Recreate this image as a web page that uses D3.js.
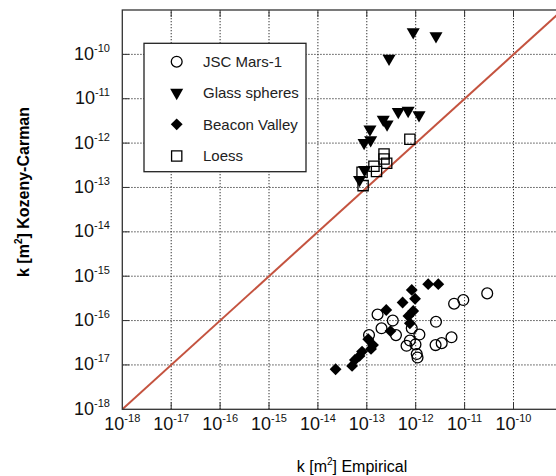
<!DOCTYPE html>
<html>
<head>
<meta charset="utf-8">
<script src="https://cdn.jsdelivr.net/npm/d3@7"></script>
<style>
body{margin:0;background:#fff}
svg{display:block;font-family:"Liberation Sans",Arial,Helvetica,sans-serif}
</style>
</head>
<body>
<svg id="chart"></svg>
<script>
// k empirique vs k Kozeny-Carman, en m2
var WIDTH=556, HEIGHT=476;

var decades=[-18,-17,-16,-15,-14,-13,-12,-11,-10];

var jscMars=[[2.9e-11,4.1e-16],[9.4e-12,2.9e-16],[6.1e-12,2.4e-16],[1.66e-13,1.37e-16],
  [3.4e-13,1.0e-16],[2.6e-12,9.4e-17],[2.0e-13,6.7e-17],[3.95e-13,4.7e-17],[1.11e-13,4.7e-17],
  [8.3e-13,6.7e-17],[1.19e-12,4.85e-17],[5.4e-12,4.2e-17],[3.4e-12,3.1e-17],[2.55e-12,2.8e-17],
  [7.6e-13,3.55e-17],[9.9e-13,2.9e-17],[6.5e-13,2.7e-17],[1.05e-12,1.76e-17],[1.09e-12,1.47e-17]];

var glassSpheres=[[8.9e-13,3.2e-10],[2.6e-12,2.6e-10],[2.85e-13,8.1e-11],[4.4e-13,5.1e-12],
  [7.0e-13,5.4e-12],[1.17e-12,4.3e-12],[2.17e-13,3.4e-12],[2.6e-13,2.65e-12],[1.16e-13,2.05e-12],
  [8.8e-14,1.02e-12],[1.2e-13,1.17e-12],[9.0e-14,2.5e-13],[7.1e-14,1.5e-13]];

var beaconValley=[[1.8e-12,6.6e-16],[2.9e-12,6.6e-16],[8.3e-13,4.9e-16],[9.7e-13,3.1e-16],
  [5.4e-13,2.55e-16],[8.9e-13,1.64e-16],[7.1e-13,1.27e-16],[7.6e-13,8.7e-17],[2.5e-13,1.73e-16],
  [3.05e-13,5.8e-17],[1.07e-13,3.8e-17],[1.34e-13,2.8e-17],[1.22e-13,2.3e-17],[7.1e-14,1.6e-17],
  [5.7e-14,1.3e-17],[5.0e-14,9.5e-18],[2.3e-14,8.0e-18],[8.0e-14,2.0e-17]];

var loess=[[7.6e-13,1.22e-12],[2.25e-13,5.7e-13],[2.25e-13,4.4e-13],[2.55e-13,3.5e-13],
  [1.4e-13,3.0e-13],[1.58e-13,2.3e-13],[8.0e-14,2.2e-13],[8.4e-14,1.1e-13]];

var seriesNames=["JSC Mars-1","Glass spheres","Beacon Valley","Loess"];

var svg=d3.select("#chart").attr("width",WIDTH).attr("height",HEIGHT);
svg.append("rect").attr("width",WIDTH).attr("height",HEIGHT).attr("fill","#fff");

var x=d3.scaleLog().domain([1e-18,1e-9]).range([122.3,562.4]);
var y=d3.scaleLog().domain([1e-18,1e-9]).range([409.3,10]);

var plot=svg.append("g");
svg.append("clipPath").attr("id","clip").append("rect")
  .attr("x",x.range()[0]).attr("y",y.range()[1])
  .attr("width",x.range()[1]-x.range()[0]).attr("height",y.range()[0]-y.range()[1]);

// grille pointillée
var inner=decades.slice(1).map(function(e){return Math.pow(10,e)});
plot.selectAll(".gx").data(inner).enter().append("line")
  .attr("x1",function(d){return x(d)}).attr("x2",function(d){return x(d)})
  .attr("y1",y.range()[0]).attr("y2",y.range()[1])
  .attr("stroke","#333").attr("stroke-width",1).attr("stroke-dasharray","1.3,1.7");
plot.selectAll(".gy").data(inner).enter().append("line")
  .attr("y1",function(d){return y(d)}).attr("y2",function(d){return y(d)})
  .attr("x1",x.range()[0]).attr("x2",x.range()[1])
  .attr("stroke","#333").attr("stroke-width",1).attr("stroke-dasharray","1.3,1.7");

// petits traits pleins vers l'intérieur
var TL=7;
inner.forEach(function(d){
  plot.append("line").attr("x1",x(d)).attr("x2",x(d)).attr("y1",y.range()[0]).attr("y2",y.range()[0]-TL).attr("stroke","#333");
  plot.append("line").attr("x1",x(d)).attr("x2",x(d)).attr("y1",y.range()[1]).attr("y2",y.range()[1]+TL).attr("stroke","#333");
  plot.append("line").attr("y1",y(d)).attr("y2",y(d)).attr("x1",x.range()[0]).attr("x2",x.range()[0]+TL).attr("stroke","#333");
});

// droite 1:1
plot.append("path").datum([1e-18,1e-9])
  .attr("clip-path","url(#clip)")
  .attr("d",d3.line().x(function(d){return x(d)}).y(function(d){return y(d)}))
  .attr("stroke","#c4533f").attr("stroke-width",2).attr("fill","none");

// cadre
plot.append("rect").attr("x",x.range()[0]).attr("y",y.range()[1])
  .attr("width",x.range()[1]-x.range()[0]).attr("height",y.range()[0]-y.range()[1])
  .attr("fill","none").attr("stroke","#333").attr("stroke-width",1.3);

// symboles
var symCircle=d3.symbol().type(d3.symbolCircle).size(92)();
var symTri=d3.symbol().type(d3.symbolTriangle).size(74)();
var symDiamond=d3.symbol().type(d3.symbolSquare).size(70)();
var symSquare=d3.symbol().type(d3.symbolSquare).size(105)();
var styles=[
  {data:jscMars,path:symCircle,rot:0,fill:"none",sw:1.3},
  {data:glassSpheres,path:symTri,rot:180,fill:"#000",sw:0},
  {data:beaconValley,path:symDiamond,rot:45,fill:"#000",sw:0},
  {data:loess,path:symSquare,rot:0,fill:"none",sw:1.3}
];
var drawOrder=[2,0,1,3];
drawOrder.forEach(function(i){
  var s=styles[i];
  plot.append("g").selectAll("path").data(s.data).enter().append("path")
    .attr("d",s.path)
    .attr("transform",function(d){return "translate("+x(d[0])+","+y(d[1])+") rotate("+s.rot+")"})
    .attr("fill",s.fill).attr("stroke","#000").attr("stroke-width",s.sw);
});

// étiquettes des graduations
function powLabel(sel,e){
  sel.append("tspan").text("10");
  sel.append("tspan").attr("font-size",11).attr("dy",-8).text(e);
}
decades.forEach(function(e){
  var t=svg.append("text").attr("x",x(Math.pow(10,e))).attr("y",430)
    .attr("text-anchor","middle").attr("font-size",18).attr("fill","#111");
  powLabel(t,e);
  var u=svg.append("text").attr("x",110).attr("y",y(Math.pow(10,e))+5.5)
    .attr("text-anchor","end").attr("font-size",18).attr("fill","#111");
  powLabel(u,e);
});

// titres d'axes
var xt=svg.append("text").attr("x",352).attr("y",472).attr("text-anchor","middle").attr("font-size",16);
xt.append("tspan").text("k [m");
xt.append("tspan").attr("font-size",10).attr("dy",-7).text("2");
xt.append("tspan").attr("dy",7).text("] Empirical");

var yt=svg.append("text").attr("transform","translate(29,192) rotate(-90)")
  .attr("text-anchor","middle").attr("font-size",16).attr("font-weight","bold");
yt.append("tspan").text("k [m");
yt.append("tspan").attr("font-size",10).attr("dy",-7).text("2");
yt.append("tspan").attr("dy",7).text("] Kozeny-Carman");

// légende
var legend=svg.append("g").attr("class","legend");
legend.append("rect").attr("x",144).attr("y",43.3).attr("width",162).attr("height",128.4)
  .attr("fill","#fff").attr("stroke","#222").attr("stroke-width",1.3);
var rowsY=[61.7,92.6,124.3,156];
seriesNames.forEach(function(name,i){
  var s=styles[i];
  legend.append("path").attr("d",s.path)
    .attr("transform","translate(176.7,"+rowsY[i]+") rotate("+s.rot+")")
    .attr("fill",s.fill).attr("stroke","#000").attr("stroke-width",s.sw);
  legend.append("text").attr("x",203).attr("y",rowsY[i]+5.3)
    .attr("font-size",15).attr("fill","#222").text(name);
});
</script>
</body>
</html>
